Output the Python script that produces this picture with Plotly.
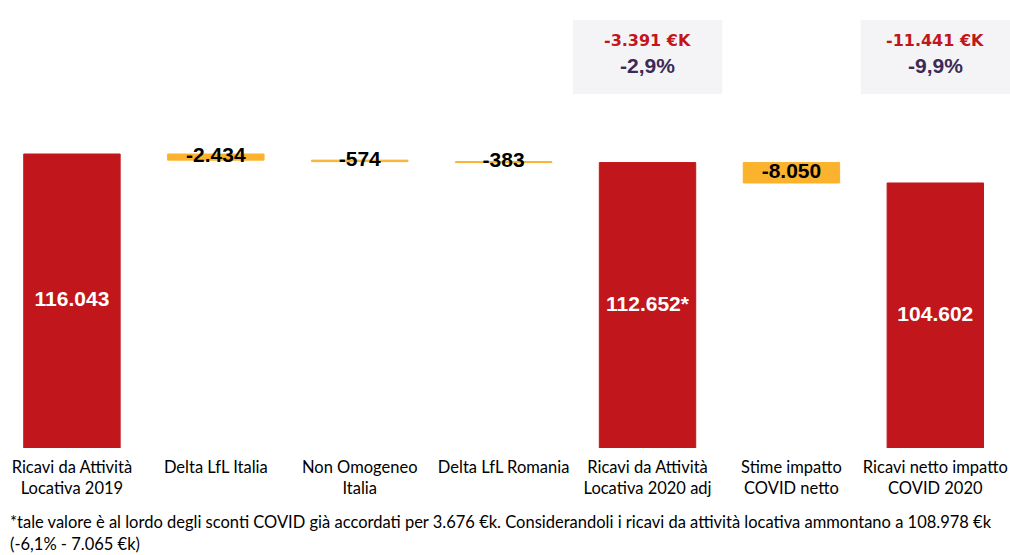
import plotly.graph_objects as go

categories = ["Ricavi da Attività<br>Locativa 2019", "Delta LfL Italia", "Non Omogeneo<br>Italia",
              "Delta LfL Romania", "Ricavi da Attività<br>Locativa 2020 adj", "Stime impatto<br>COVID netto",
              "Ricavi netto impatto<br>COVID 2020"]
measures = ["absolute", "relative", "relative", "relative", "total", "relative", "total"]
values = [116043, -2434, -574, -383, 112652, -8050, 104602]
labels = ["116.043", "-2.434", "-574", "-383", "112.652*", "-8.050", "104.602"]
callout_idx = [4, 6]
callout_values = ["-3.391 €K", "-11.441 €K"]
callout_pct = ["-2,9%", "-9,9%"]
footnote1 = "*tale valore è al lordo degli sconti COVID già accordati per 3.676 €k. Considerandoli i ricavi da attività locativa ammontano a 108.978 €k"
footnote2 = "(-6,1% - 7.065 €k)"

RED = "#C1161B"
ORANGE = "#FBB22D"
TXT_FONT = "Lato, Carlito, Calibri, sans-serif"

# compute bar extents for label placement
bases, tops = [], []
run = 0
for m, v in zip(measures, values):
    if m in ("absolute", "total"):
        b, t = 0, v
        run = v
    else:
        b, t = run, run + v
        run = run + v
    bases.append(b)
    tops.append(t)
mids = [(b + t) / 2 for b, t in zip(bases, tops)]
is_total = [m != "relative" for m in measures]

fig = go.Figure()
bar_colors = [RED if t else ORANGE for t in is_total]
fig.add_trace(go.Bar(
    x=categories,
    y=[t - b for b, t in zip(bases, tops)],
    base=bases,
    marker=dict(color=bar_colors, line=dict(color=bar_colors, width=1)),
    hoverinfo="skip",
    showlegend=False,
))

fig.add_trace(go.Scatter(
    x=categories, y=mids, mode="text", text=labels,
    textfont=dict(family="Liberation Sans, Arial, sans-serif", size=21,
                  color=["white" if t else "black" for t in is_total],
                  weight="bold"),
    textposition="middle center", hoverinfo="skip", showlegend=False,
))

ymax = 116043 * 448 / 294
shapes = []
annotations = []
for i, v, p in zip(callout_idx, callout_values, callout_pct):
    shapes.append(dict(type="rect", xref="x", yref="paper", x0=i - 0.519, x1=i + 0.519,
                       y0=1 - 94 / 448, y1=1 - 20 / 448, fillcolor="#F4F4F7", line=dict(width=0),
                       layer="below"))
    annotations.append(dict(xref="x", yref="paper", x=i, y=1 - 40 / 448, text=v, showarrow=False,
                            font=dict(family="DejaVu Sans, sans-serif", size=16, color=RED, weight="bold"),
                            xanchor="center", yanchor="middle"))
    annotations.append(dict(xref="x", yref="paper", x=i, y=1 - 65 / 448, text=p, showarrow=False,
                            font=dict(family="Liberation Sans, Arial, sans-serif", size=21, color="#3C2A55", weight="bold"),
                            xanchor="center", yanchor="middle"))

annotations.append(dict(xref="paper", yref="paper", x=8 / 1010, y=(448 - 522) / 448, text=footnote1,
                        showarrow=False, xanchor="left", yanchor="middle",
                        font=dict(family=TXT_FONT, size=16.5, color="black")))
annotations.append(dict(xref="paper", yref="paper", x=8 / 1010, y=(448 - 544) / 448, text=footnote2,
                        showarrow=False, xanchor="left", yanchor="middle",
                        font=dict(family=TXT_FONT, size=16.5, color="black")))

fig.update_layout(
    width=1010, height=555,
    margin=dict(l=0, r=0, t=0, b=107),
    paper_bgcolor="white", plot_bgcolor="white",
    bargap=0.33,
    shapes=shapes, annotations=annotations,
    xaxis=dict(showgrid=False, showline=False, zeroline=False, ticks="",
               tickfont=dict(family=TXT_FONT, size=16.5, color="black"),
               ticklabelstandoff=7,
               fixedrange=True),
    yaxis=dict(range=[0, ymax], visible=False, fixedrange=True),
)

fig.write_html("out.html", config={"displayModeBar": False},
               post_script="document.body.style.margin='0';document.body.style.padding='0';")
